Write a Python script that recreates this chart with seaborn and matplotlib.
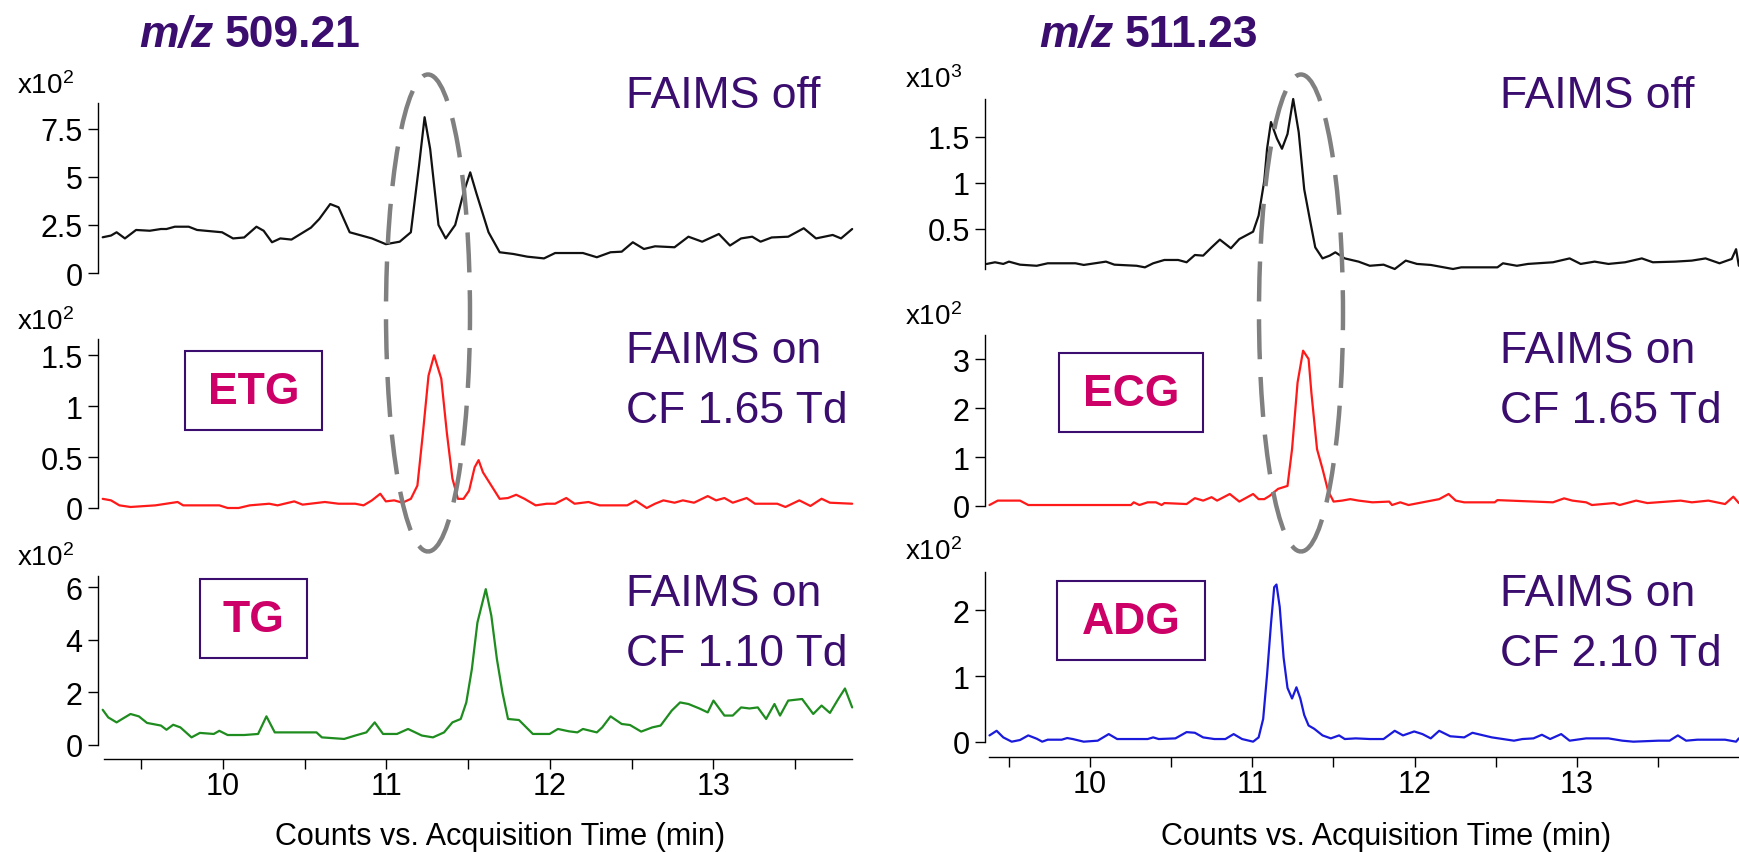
import matplotlib
matplotlib.use("Agg")
import matplotlib.pyplot as plt
import pandas as pd
import seaborn as sns
from matplotlib.patches import Ellipse, Rectangle
from matplotlib.text import Annotation

# ---------------- data: extracted ion chromatograms (time in min, counts) ----------------
# m/z 509.21, FAIMS off (x10^2)
t_509_off = [9.266, 9.317, 9.351, 9.402, 9.470, 9.554, 9.622, 9.656, 9.707, 9.792, 9.843, 9.996,
             10.063, 10.131, 10.206, 10.250, 10.301, 10.352, 10.420, 10.539, 10.590, 10.657, 10.708,
             10.776, 10.912, 10.997, 11.082, 11.150, 11.200, 11.234, 11.268, 11.319, 11.363, 11.421,
             11.472, 11.513, 11.550, 11.625, 11.693, 11.777, 11.862, 11.964, 12.032, 12.202, 12.287,
             12.371, 12.439, 12.507, 12.575, 12.643, 12.762, 12.847, 12.931, 13.033, 13.101, 13.169,
             13.237, 13.288, 13.356, 13.457, 13.552, 13.627, 13.729, 13.780, 13.848]
c_509_off = [1.86, 1.95, 2.12, 1.80, 2.24, 2.20, 2.29, 2.29, 2.41, 2.41, 2.24, 2.12,
             1.80, 1.85, 2.41, 2.20, 1.60, 1.80, 1.74, 2.36, 2.81, 3.59, 3.42,
             2.12, 1.80, 1.50, 1.63, 2.12, 5.59, 8.11, 6.46, 2.50, 1.80, 2.50,
             4.17, 5.24, 4.17, 2.12, 1.08, 0.99, 0.85, 0.76, 1.04, 1.04, 0.82,
             1.08, 1.11, 1.60, 1.25, 1.39, 1.34, 1.89, 1.63, 2.03, 1.43, 1.80,
             1.89, 1.63, 1.85, 1.89, 2.33, 1.80, 1.98, 1.80, 2.29]

# m/z 509.21, FAIMS on CF 1.65 Td - ETG (x10^2)
t_etg = [9.266, 9.317, 9.368, 9.436, 9.588, 9.724, 9.758, 9.979, 10.030, 10.097, 10.165, 10.284,
         10.335, 10.437, 10.488, 10.624, 10.708, 10.810, 10.861, 10.912, 10.963, 10.997, 11.048,
         11.099, 11.150, 11.190, 11.224, 11.258, 11.292, 11.336, 11.370, 11.404, 11.438, 11.472,
         11.506, 11.540, 11.564, 11.591, 11.642, 11.693, 11.744, 11.794, 11.845, 11.913, 11.981,
         12.032, 12.100, 12.151, 12.236, 12.304, 12.473, 12.524, 12.592, 12.643, 12.694, 12.762,
         12.813, 12.881, 12.965, 13.016, 13.067, 13.118, 13.203, 13.254, 13.390, 13.440, 13.525,
         13.593, 13.661, 13.712, 13.848]
c_etg = [0.090, 0.075, 0.026, 0.010, 0.026, 0.059, 0.026, 0.026, 0.000, 0.000, 0.026, 0.042,
         0.026, 0.065, 0.033, 0.059, 0.042, 0.042, 0.026, 0.075, 0.140, 0.065, 0.075,
         0.052, 0.090, 0.220, 0.740, 1.300, 1.500, 1.270, 0.740, 0.290, 0.090, 0.090,
         0.170, 0.400, 0.470, 0.350, 0.220, 0.090, 0.098, 0.130, 0.090, 0.026, 0.042,
         0.042, 0.098, 0.042, 0.059, 0.026, 0.026, 0.072, 0.000, 0.042, 0.075, 0.052,
         0.075, 0.052, 0.117, 0.075, 0.098, 0.052, 0.098, 0.042, 0.042, 0.010, 0.075,
         0.020, 0.091, 0.052, 0.042]

# m/z 509.21, FAIMS on CF 1.10 Td - TG (x10^2)
t_tg = [9.266, 9.300, 9.351, 9.385, 9.436, 9.487, 9.537, 9.622, 9.656, 9.697, 9.741, 9.809,
        9.860, 9.945, 9.979, 10.030, 10.131, 10.216, 10.267, 10.318, 10.369, 10.573, 10.606,
        10.742, 10.810, 10.878, 10.929, 10.980, 11.065, 11.133, 11.217, 11.285, 11.353, 11.404,
        11.455, 11.489, 11.523, 11.557, 11.608, 11.642, 11.676, 11.710, 11.744, 11.811, 11.896,
        11.998, 12.049, 12.117, 12.168, 12.202, 12.287, 12.320, 12.371, 12.439, 12.490, 12.558,
        12.626, 12.677, 12.745, 12.796, 12.847, 12.914, 12.965, 13.000, 13.067, 13.118, 13.169,
        13.220, 13.271, 13.322, 13.373, 13.407, 13.457, 13.542, 13.610, 13.661, 13.712, 13.763,
        13.804, 13.848]
c_tg = [1.34, 1.05, 0.86, 0.99, 1.18, 1.09, 0.84, 0.74, 0.58, 0.77, 0.67, 0.29,
        0.46, 0.42, 0.54, 0.38, 0.38, 0.42, 1.09, 0.48, 0.48, 0.48, 0.29,
        0.23, 0.36, 0.48, 0.86, 0.42, 0.42, 0.61, 0.36, 0.29, 0.48, 0.86,
        0.99, 1.62, 2.89, 4.66, 5.93, 4.92, 3.27, 2.00, 0.99, 0.95, 0.42,
        0.42, 0.61, 0.52, 0.48, 0.61, 0.48, 0.67, 1.09, 0.80, 0.76, 0.51,
        0.67, 0.74, 1.31, 1.62, 1.56, 1.39, 1.24, 1.69, 1.12, 1.12, 1.43,
        1.39, 1.43, 0.99, 1.56, 1.12, 1.69, 1.75, 1.18, 1.50, 1.22, 1.75,
        2.15, 1.43]

# m/z 511.23, FAIMS off (x10^3)
t_511_off = [9.363, 9.414, 9.465, 9.500, 9.568, 9.671, 9.739, 9.910, 9.961, 10.098, 10.150, 10.287,
             10.338, 10.389, 10.458, 10.543, 10.595, 10.646, 10.697, 10.749, 10.800, 10.868, 10.920,
             11.005, 11.039, 11.074, 11.091, 11.115, 11.152, 11.183, 11.217, 11.252, 11.286, 11.320,
             11.354, 11.388, 11.433, 11.477, 11.512, 11.570, 11.655, 11.724, 11.809, 11.878, 11.946,
             12.015, 12.100, 12.237, 12.288, 12.511, 12.545, 12.631, 12.699, 12.853, 12.956, 13.024,
             13.110, 13.195, 13.298, 13.401, 13.469, 13.606, 13.709, 13.794, 13.880, 13.955, 13.982,
             13.999]
c_511_off = [0.120, 0.138, 0.120, 0.145, 0.112, 0.100, 0.127, 0.127, 0.109, 0.145, 0.112, 0.100,
             0.083, 0.127, 0.163, 0.163, 0.138, 0.217, 0.210, 0.300, 0.384, 0.290, 0.390,
             0.470, 0.645, 1.025, 1.370, 1.660, 1.480, 1.370, 1.530, 1.910, 1.550, 0.930,
             0.610, 0.300, 0.180, 0.210, 0.246, 0.180, 0.145, 0.100, 0.112, 0.065, 0.156,
             0.120, 0.109, 0.065, 0.083, 0.083, 0.127, 0.100, 0.120, 0.138, 0.180, 0.120,
             0.145, 0.120, 0.138, 0.180, 0.138, 0.145, 0.156, 0.180, 0.127, 0.174, 0.280,
             0.100]

# m/z 511.23, FAIMS on CF 1.65 Td - ECG (x10^2)
t_ecg = [9.380, 9.431, 9.568, 9.619, 10.252, 10.269, 10.304, 10.355, 10.406, 10.441, 10.458, 10.595,
         10.646, 10.697, 10.749, 10.783, 10.861, 10.920, 11.005, 11.039, 11.074, 11.108, 11.159,
         11.217, 11.245, 11.279, 11.313, 11.347, 11.364, 11.399, 11.433, 11.467, 11.501, 11.553,
         11.604, 11.655, 11.741, 11.844, 11.861, 11.912, 11.963, 12.049, 12.152, 12.210, 12.254,
         12.306, 12.494, 12.511, 12.853, 12.922, 12.973, 13.058, 13.093, 13.230, 13.264, 13.366,
         13.435, 13.640, 13.709, 13.811, 13.914, 13.965, 13.999]
c_ecg = [0.020, 0.110, 0.110, 0.020, 0.020, 0.075, 0.020, 0.075, 0.075, 0.020, 0.060, 0.040,
         0.160, 0.110, 0.180, 0.110, 0.245, 0.090, 0.245, 0.140, 0.140, 0.210, 0.350,
         0.410, 1.160, 2.520, 3.170, 3.000, 2.320, 1.160, 0.755, 0.310, 0.090, 0.110,
         0.140, 0.110, 0.075, 0.090, 0.020, 0.075, 0.020, 0.075, 0.140, 0.245, 0.110,
         0.075, 0.075, 0.120, 0.075, 0.156, 0.110, 0.075, 0.020, 0.060, 0.020, 0.110,
         0.060, 0.110, 0.075, 0.110, 0.040, 0.190, 0.060]

# m/z 511.23, FAIMS on CF 2.10 Td - ADG (x10^2)
t_adg = [9.380, 9.424, 9.465, 9.517, 9.568, 9.619, 9.671, 9.705, 9.739, 9.825, 9.859, 9.893,
         9.961, 10.047, 10.115, 10.167, 10.355, 10.389, 10.423, 10.526, 10.595, 10.646, 10.697,
         10.766, 10.834, 10.885, 10.937, 11.005, 11.039, 11.067, 11.091, 11.115, 11.135, 11.149,
         11.169, 11.193, 11.217, 11.245, 11.272, 11.296, 11.320, 11.347, 11.382, 11.433, 11.484,
         11.535, 11.570, 11.638, 11.724, 11.809, 11.878, 11.929, 11.998, 12.049, 12.100, 12.152,
         12.220, 12.306, 12.357, 12.408, 12.477, 12.545, 12.613, 12.665, 12.733, 12.785, 12.836,
         12.904, 12.956, 13.058, 13.195, 13.281, 13.349, 13.503, 13.572, 13.623, 13.674, 13.743,
         13.914, 13.982, 13.999]
c_adg = [0.100, 0.170, 0.070, 0.005, 0.030, 0.100, 0.050, 0.005, 0.035, 0.035, 0.060, 0.045,
         0.005, 0.020, 0.120, 0.045, 0.045, 0.070, 0.045, 0.055, 0.150, 0.140, 0.070,
         0.045, 0.045, 0.120, 0.045, 0.005, 0.070, 0.350, 1.020, 1.790, 2.350, 2.390,
         2.050, 1.280, 0.820, 0.660, 0.830, 0.660, 0.410, 0.250, 0.200, 0.100, 0.055,
         0.100, 0.045, 0.055, 0.045, 0.045, 0.170, 0.100, 0.160, 0.120, 0.055, 0.170,
         0.087, 0.070, 0.140, 0.110, 0.070, 0.045, 0.020, 0.045, 0.055, 0.110, 0.045,
         0.120, 0.020, 0.055, 0.055, 0.020, 0.005, 0.020, 0.020, 0.100, 0.020, 0.035,
         0.035, 0.005, 0.055]

# axis ticks
x_major = [10, 11, 12, 13]
x_minor = [9.5, 10.5, 11.5, 12.5, 13.5]
yt_509_off, yl_509_off = [0, 2.5, 5, 7.5], ["0", "2.5", "5", "7.5"]
yt_etg, yl_etg = [0, 0.5, 1, 1.5], ["0", "0.5", "1", "1.5"]
yt_tg, yl_tg = [0, 2, 4, 6], ["0", "2", "4", "6"]
yt_511_off, yl_511_off = [0.5, 1, 1.5], ["0.5", "1", "1.5"]
yt_ecg, yl_ecg = [0, 1, 2, 3], ["0", "1", "2", "3"]
yt_adg, yl_adg = [0, 1, 2], ["0", "1", "2"]

# text
titles = ["m/z", "509.21", "511.23"]
conditions = ["FAIMS off", "FAIMS on", "CF 1.65 Td", "CF 1.10 Td", "CF 2.10 Td"]
compounds = ["ETG", "TG", "ECG", "ADG"]
scales = ["x10$^{2}$", "x10$^{3}$"]
xlabel = "Counts vs. Acquisition Time (min)"

# ---------------- style ----------------
sns.set_theme(style="ticks")
plt.rcParams["font.family"] = ["Liberation Sans", "DejaVu Sans"]
plt.rcParams["mathtext.fontset"] = "custom"
plt.rcParams["mathtext.rm"] = "Liberation Sans"
plt.rcParams["mathtext.it"] = "Liberation Sans:italic"
plt.rcParams["mathtext.bf"] = "Liberation Sans:bold"
plt.rcParams["mathtext.default"] = "regular"
plt.rcParams["axes.edgecolor"] = "black"
plt.rcParams["xtick.color"] = "black"
plt.rcParams["ytick.color"] = "black"

PURPLE = "#3a0d6e"
MAGENTA = "#cc0066"
GREY = "#808080"

W, H = 1739, 853
fig = plt.figure(figsize=(W / 100, H / 100), dpi=100)
fig.patch.set_facecolor("white")


def fx(px):
    return px / W


def fy(py):
    return 1 - py / H


def panel(left, top, right, bottom, t, c, color, xlim, ylim, yticks, ylabels,
          spine_out, xaxis_out=None):
    ax = fig.add_axes([fx(left), fy(bottom), (right - left) / W, (bottom - top) / H])
    df = pd.DataFrame({"time": t, "counts": c})
    sns.lineplot(data=df, x="time", y="counts", ax=ax, color=color, lw=1.6,
                 estimator=None, sort=False)
    for ln in ax.lines:
        ln.set_clip_on(False)
    ax.set_xlim(xlim)
    ax.set_ylim(ylim)
    ax.set_xlabel("")
    ax.set_ylabel("")
    ax.set_yticks(yticks)
    ax.set_yticklabels(ylabels)
    ax.patch.set_alpha(0)
    for s in ("top", "right"):
        ax.spines[s].set_visible(False)
    ax.spines["left"].set_position(("outward", spine_out))
    ax.spines["left"].set_linewidth(1.0)
    ax.tick_params(axis="y", direction="out", length=7, width=1.0, pad=4, labelsize=22)
    if xaxis_out is None:
        ax.spines["bottom"].set_visible(False)
        ax.set_xticks([])
    else:
        ax.spines["bottom"].set_position(("outward", xaxis_out))
        ax.spines["bottom"].set_linewidth(1.0)
        ax.set_xticks(x_major)
        ax.set_xticklabels([str(v) for v in x_major])
        ax.set_xticks(x_minor, minor=True)
        ax.tick_params(axis="x", which="both", direction="out", length=7, width=1.0,
                       pad=2, labelsize=22, bottom=True)
    return ax


XL = (9.274, 13.847)
XR = (9.377, 14.0)

panel(104, 104, 852, 274, t_509_off, c_509_off, "#111111", XL, (0, 8.85),
      yt_509_off, yl_509_off, 4.3)
panel(104, 340, 852, 509, t_etg, c_etg, "#ff1a1a", XL, (0, 1.66), yt_etg, yl_etg, 4.3)
axLB = panel(104, 577, 852, 746, t_tg, c_tg, "#1e8c1e", XL, (0, 6.43), yt_tg, yl_tg, 4.3,
             xaxis_out=10)
panel(989, 100, 1739, 270, t_511_off, c_511_off, "#111111", XR, (0.065, 1.91),
      yt_511_off, yl_511_off, 2.9)
panel(989, 336, 1739, 507, t_ecg, c_ecg, "#ff1a1a", XR, (0, 3.49), yt_ecg, yl_ecg, 2.9)
axRB = panel(989, 573, 1739, 743, t_adg, c_adg, "#1a1adc", XR, (0, 2.58), yt_adg, yl_adg, 2.9,
             xaxis_out=10.8)

for ax, lx, ly in ((axLB, 0.529, -0.538), (axRB, 0.530, -0.553)):
    ax.set_xlabel(xlabel, fontsize=22, color="black")
    ax.xaxis.set_label_coords(lx, ly)
    ax.xaxis.label.set_va("center")

# scale factors above each y axis
for x, y, s in ((17, 94, scales[0]), (17, 330, scales[0]), (17, 566, scales[0]),
                (905, 88, scales[1]), (905, 325, scales[0]), (905, 560, scales[0])):
    fig.text(fx(x), fy(y), s, fontsize=20, color="black", va="baseline", ha="left")

# mass titles
for x, mass in ((139, titles[1]), (1039, titles[2])):
    t1 = fig.text(fx(x), fy(47), titles[0], fontsize=32, fontweight="bold",
                  fontstyle="italic", color=PURPLE, va="baseline", ha="left")
    fig.add_artist(Annotation(mass, xy=(1, 0), xycoords=t1, xytext=(8, 0),
                              textcoords="offset points", fontsize=32, fontweight="bold",
                              color=PURPLE, va="bottom", ha="left"))

# acquisition condition labels
for x in (626, 1500):
    fig.text(fx(x), fy(108), conditions[0], fontsize=32, color=PURPLE, va="baseline")
    fig.text(fx(x), fy(363), conditions[1], fontsize=32, color=PURPLE, va="baseline")
    fig.text(fx(x), fy(606), conditions[1], fontsize=32, color=PURPLE, va="baseline")
fig.text(fx(626), fy(423), conditions[2], fontsize=32, color=PURPLE, va="baseline")
fig.text(fx(626), fy(666), conditions[3], fontsize=32, color=PURPLE, va="baseline")
fig.text(fx(1500), fy(423), conditions[2], fontsize=32, color=PURPLE, va="baseline")
fig.text(fx(1500), fy(666), conditions[4], fontsize=32, color=PURPLE, va="baseline")

# boxed compound names
for (l, t, r, b), name in (((185, 352, 322, 431), compounds[0]),
                           ((200, 580, 307, 659), compounds[1]),
                           ((1059, 354, 1203, 433), compounds[2]),
                           ((1057, 582, 1205, 661), compounds[3])):
    fig.add_artist(Rectangle((fx(l), fy(b)), (r - l) / W, (b - t) / H,
                             transform=fig.transFigure, fill=False,
                             edgecolor=PURPLE, lw=1.5, zorder=3))
    fig.text(fx((l + r) / 2), fy((t + b) / 2 + 1), name, fontsize=32, fontweight="bold",
             color=MAGENTA, ha="center", va="center")

# dashed ellipses around the co-eluting region
for cx in (428, 1301):
    fig.add_artist(Ellipse((fx(cx), fy(314)), 84 / W, 477 / H, transform=fig.transFigure,
                           fill=False, edgecolor=GREY, lw=3.2, linestyle=(0, (9, 4)),
                           zorder=4))

fig.savefig("out.png", dpi=100, facecolor="white")
